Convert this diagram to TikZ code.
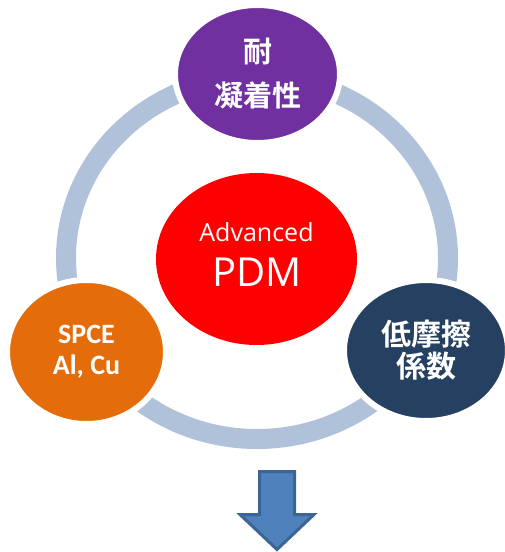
\documentclass[tikz,border=0pt]{standalone}
\usepackage{fontspec}
\usepackage{xcolor}
\usepackage{tikz}
\usetikzlibrary{shapes.geometric}
\setmainfont{Open Sans}
\newfontfamily\calfont{Carlito}
\newfontfamily\jpfont{Noto Sans CJK JP}[BoldFont={Noto Sans CJK JP Bold}]
\definecolor{ringblue}{HTML}{B0C1DA}
\definecolor{violet}{HTML}{7030A0}
\definecolor{rust}{HTML}{E46C0A}
\definecolor{navy}{HTML}{254061}
\definecolor{arrowfill}{HTML}{4F81BD}
\definecolor{arrowline}{HTML}{3C6494}

\begin{document}
\begin{tikzpicture}[x=1pt,y=-1pt,
  bubble/.style={ellipse, draw=white, line width=6pt, inner sep=0pt,
    text=white, align=center}]
\useasboundingbox (0,0) rectangle (505,552);

% ring behind the bubbles
\draw[color=ringblue, line width=20pt] (257,258) ellipse (191 and 181);

\node[bubble, fill=violet, minimum width=165, minimum height=138,
  font=\jpfont\bfseries\fontsize{29}{44}\selectfont] (top) at (257.5,74) {耐\\凝着性};
\node[bubble, fill=rust, minimum width=159, minimum height=144,
  font=\calfont\bfseries\fontsize{28}{31}\selectfont] (left) at (86.5,352) {SPCE\\Al, Cu};
\node[bubble, fill=navy, minimum width=164, minimum height=141,
  font=\jpfont\bfseries\fontsize{30}{32}\selectfont] (right) at (426,350.5) {低摩擦\\係数};

\node[ellipse, fill=red, minimum width=201, minimum height=172, inner sep=0pt] (pdm) at (256.5,259) {};
\node[text=white, anchor=base, font=\fontsize{25}{30}\selectfont] (adv) at (256.5,241.5) {Advanced};
\node[text=white, anchor=base, font=\fontsize{40}{44}\selectfont] (pdmtext) at (257,286) {PDM};

% arrow below
\draw[fill=arrowfill, draw=arrowline, line width=3pt, line join=miter]
  (259.5,471.5) -- (294.5,471.5) -- (294.5,514.5) -- (314,514.5) -- (277,549.5)
  -- (240,514.5) -- (259.5,514.5) -- cycle;

\end{tikzpicture}
\end{document}
